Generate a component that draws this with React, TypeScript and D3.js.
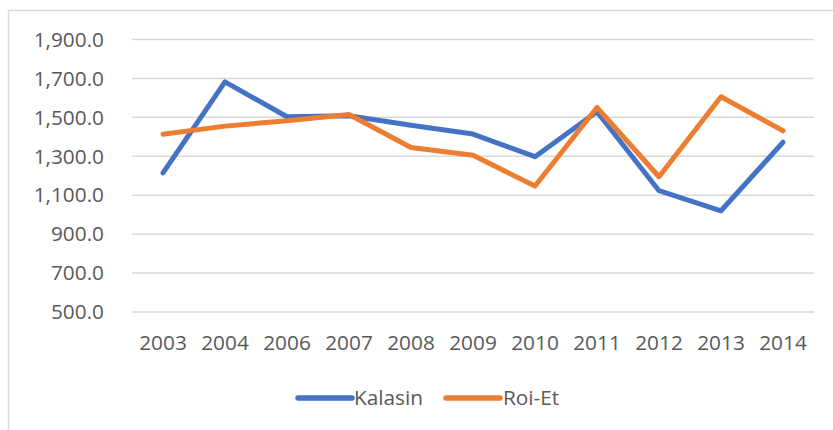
import * as d3 from "d3";

const years = ["2003", "2004", "2006", "2007", "2008", "2009", "2010", "2011", "2012", "2013", "2014"];
const kalasin = [1215, 1682, 1503, 1508, 1459, 1414, 1298, 1529, 1123, 1020, 1372];
const roiEt = [1413, 1455, 1483, 1515, 1345, 1305, 1147, 1551, 1195, 1606, 1431];
const yTicks = [500, 700, 900, 1100, 1300, 1500, 1700, 1900];

const WIDTH = 833;
const HEIGHT = 430;
const FONT = "'Open Sans', 'Noto Sans', sans-serif";
const FS = 20.8;
const TEXT = "#595959";
const GRID = "#d9d9d9";

const seriesList = [
  { name: "Kalasin", values: kalasin, color: "#4472C4" },
  { name: "Roi-Et", values: roiEt, color: "#ED7D31" },
];

function LineChart() {
  const xScale = d3.scaleBand<string>().domain(years).range([132, 814]);
  const yScale = d3.scaleLinear().domain([500, 1900]).range([312, 39.5]);
  const fmt = d3.format(",.1f");

  const line = d3
    .line<number>()
    .x((_, i) => (xScale(years[i]) ?? 0) + xScale.bandwidth() / 2)
    .y((d) => yScale(d));

  // legend positions
  const legend = [
    { x1: 298, x2: 352, tx: 354 },
    { x1: 446, x2: 500, tx: 503 },
  ];

  return (
    <svg width={WIDTH} height={HEIGHT} style={{ display: "block" }}>
      <rect x={0} y={0} width={WIDTH} height={HEIGHT} fill="#fff" />
      <rect x={8.5} y={10.5} width={WIDTH + 20} height={HEIGHT + 20} fill="none" stroke={GRID} strokeWidth={1.5} />

      {yTicks.map((t) => (
        <g key={t}>
          <line x1={132} x2={814} y1={yScale(t)} y2={yScale(t)} stroke={GRID} strokeWidth={1.5} />
          <text x={104} y={yScale(t)} dy="0.35em" textAnchor="end" fontFamily={FONT} fontSize={FS} fill={TEXT}>
            {fmt(t)}
          </text>
        </g>
      ))}

      {years.map((y) => (
        <text
          key={y}
          x={(xScale(y) ?? 0) + xScale.bandwidth() / 2}
          y={343}
          dy="0.35em"
          textAnchor="middle"
          fontFamily={FONT}
          fontSize={FS}
          fill={TEXT}
        >
          {y}
        </text>
      ))}

      {seriesList.map((s) => (
        <path
          key={s.name}
          d={line(s.values) ?? ""}
          fill="none"
          stroke={s.color}
          strokeWidth={5}
          strokeLinejoin="round"
          strokeLinecap="round"
        />
      ))}

      {seriesList.map((s, i) => (
        <g key={s.name}>
          <line x1={legend[i].x1} x2={legend[i].x2} y1={398} y2={398} stroke={s.color} strokeWidth={5.5} strokeLinecap="round" />
          <text x={legend[i].tx} y={398} dy="0.35em" fontFamily={FONT} fontSize={FS} fill={TEXT}>
            {s.name}
          </text>
        </g>
      ))}
    </svg>
  );
}

export default function App() {
  return (
    <div>
      <style>{`body{margin:0}`}</style>
      <LineChart />
    </div>
  );
}
